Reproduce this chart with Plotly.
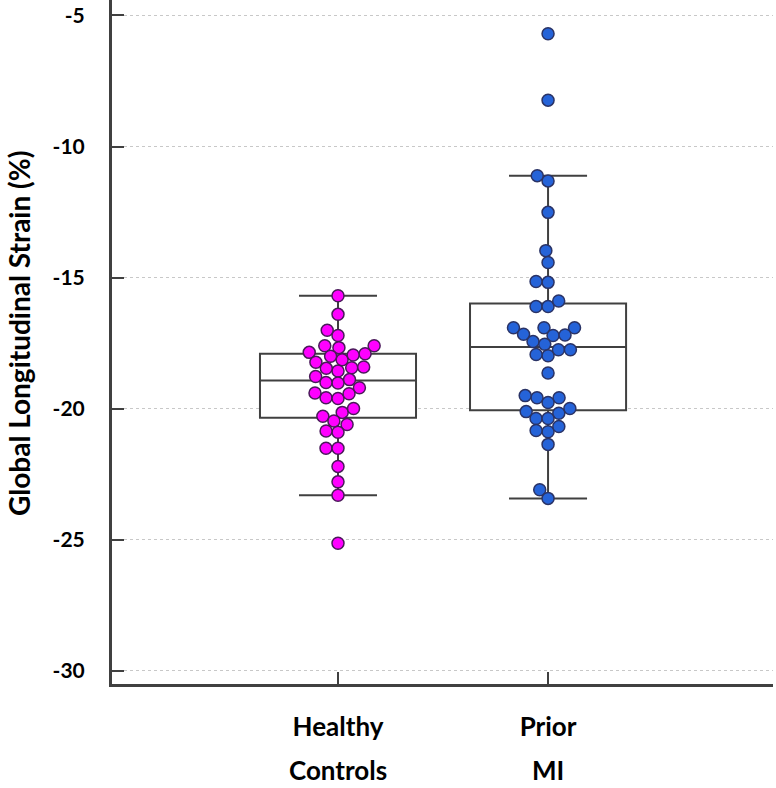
import numpy as np
import plotly.graph_objects as go

# values
groups = ["Healthy", "Prior"]
groups_line2 = ["Controls", "MI"]

healthy = [-15.69, -16.40, -17.01, -17.21, -17.60, -17.67, -17.60, -17.90, -17.85,
           -18.13, -18.00, -17.95, -18.23, -18.56, -18.46, -18.44, -18.41, -18.77,
           -18.89, -19.02, -19.00, -19.20, -19.58, -19.61, -19.43, -19.40, -20.14,
           -19.99, -20.29, -20.47, -20.60, -20.90, -20.85, -21.51, -21.51, -22.20,
           -22.79, -23.30, -25.13]
prior_mi = [-5.70, -8.23, -11.11, -11.31, -12.51, -13.97, -14.42, -15.18, -15.15,
            -16.10, -16.10, -15.89, -16.91, -16.91, -16.91, -17.21, -17.19, -17.16,
            -17.44, -17.54, -17.75, -17.75, -17.98, -17.93, -18.64, -19.58, -19.58,
            -19.50, -19.76, -19.99, -20.17, -20.11, -20.37, -20.37, -20.88, -20.83,
            -20.68, -21.36, -23.09, -23.42]

# box statistics as drawn in the reference
q1 = [-20.34, -20.06]
median = [-18.92, -17.65]
q3 = [-17.90, -15.99]
lower_whisker = [-23.30, -23.42]
upper_whisker = [-15.69, -11.11]

y_ticks = [-5, -10, -15, -20, -25, -30]
y_ticktext = ["-5", "-10", "-15", "-20", "-25", "-30"]

W, H = 776, 788
margin = dict(l=112, r=3, t=0, b=104)
x_range = [-1.076, 2.071]
y_range = [-30.50, -4.41]

axis_col = "#404040"
font_fam = "Lato"

plot_w = W - margin["l"] - margin["r"]
plot_h = H - margin["t"] - margin["b"]
# pixel scales, used to lay out the beeswarm
px_x = plot_w / (x_range[1] - x_range[0])
px_y = plot_h / (y_range[1] - y_range[0])


def swarm(values, diameter=12.0):
    """simple beeswarm: offset in data units for each value"""
    order = np.argsort(values)
    placed = []  # (x_px, y_px)
    offsets = np.zeros(len(values))
    for i in order:
        y = values[i] * px_y
        cands = [0.0]
        for (px, py) in placed:
            dy = abs(py - y)
            if dy < diameter:
                dx = np.sqrt(diameter ** 2 - dy ** 2)
                cands += [px + dx, px - dx]
        cands.sort(key=lambda c: (abs(c), c))
        for c in cands:
            if all((c - px) ** 2 + (y - py) ** 2 >= diameter ** 2 - 1e-6 for (px, py) in placed):
                placed.append((c, y))
                offsets[i] = c / px_x
                break
    return offsets


fig = go.Figure()

for i in range(2):
    fig.add_trace(go.Box(
        x=[i], q1=[q1[i]], median=[median[i]], q3=[q3[i]],
        lowerfence=[lower_whisker[i]], upperfence=[upper_whisker[i]],
        width=0.743, whiskerwidth=0.5, fillcolor="white",
        line=dict(color=axis_col, width=2), boxpoints=False,
        showlegend=False, hoverinfo="skip",
    ))

series = [(healthy, "#ff00ff", "#4a1a5a"), (prior_mi, "#2563d8", "#2a3366")]
for i, (vals, fill, edge) in enumerate(series):
    vals = np.asarray(vals)
    fig.add_trace(go.Scatter(
        x=i + swarm(vals), y=vals, mode="markers",
        marker=dict(size=12, color=fill, line=dict(color=edge, width=1.5)),
        showlegend=False,
    ))

bold = dict(family=font_fam, weight="bold", color="black")

# second line of the category labels
for i, txt in enumerate(groups_line2):
    fig.add_annotation(x=i, y=(plot_h - 787) / plot_h, xref="x", yref="paper", text=txt,
                       showarrow=False, yanchor="bottom", borderpad=0,
                       font=dict(size=26, **bold))

# y title as a rotated annotation so it sits where the reference has it
fig.add_annotation(x=(19 - margin["l"]) / plot_w, y=(plot_h - 334) / plot_h,
                   xref="paper", yref="paper", text="Global Longitudinal Strain (%)",
                   textangle=-90, showarrow=False, xanchor="center", yanchor="middle",
                   borderpad=0, font=dict(size=28, **bold))

fig.update_layout(
    width=W, height=H, margin=margin,
    paper_bgcolor="white", plot_bgcolor="white",
    font=dict(family=font_fam, color="black"),
    xaxis=dict(
        range=x_range, tickvals=[0, 1], ticktext=groups, automargin=False,
        showline=True, linecolor=axis_col, linewidth=3,
        ticks="inside", ticklen=12, tickwidth=2, tickcolor=axis_col,
        showgrid=False, zeroline=False, ticklabelstandoff=18,
        tickfont=dict(size=26, **bold),
    ),
    yaxis=dict(
        range=y_range, tickvals=y_ticks, ticktext=y_ticktext, automargin=False,
        showline=True, linecolor=axis_col, linewidth=3,
        ticks="inside", ticklen=12, tickwidth=2, tickcolor=axis_col,
        showgrid=True, gridcolor="#c8c8c8", griddash="dot", gridwidth=1,
        zeroline=False, ticklabelstandoff=20,
        tickfont=dict(size=21, **bold),
    ),
)

# drop the browser's default 8px body margin so the figure sits at the page corner
fig.write_html("out.html", config={"displayModeBar": False},
               post_script="document.body.style.margin = '0';")
